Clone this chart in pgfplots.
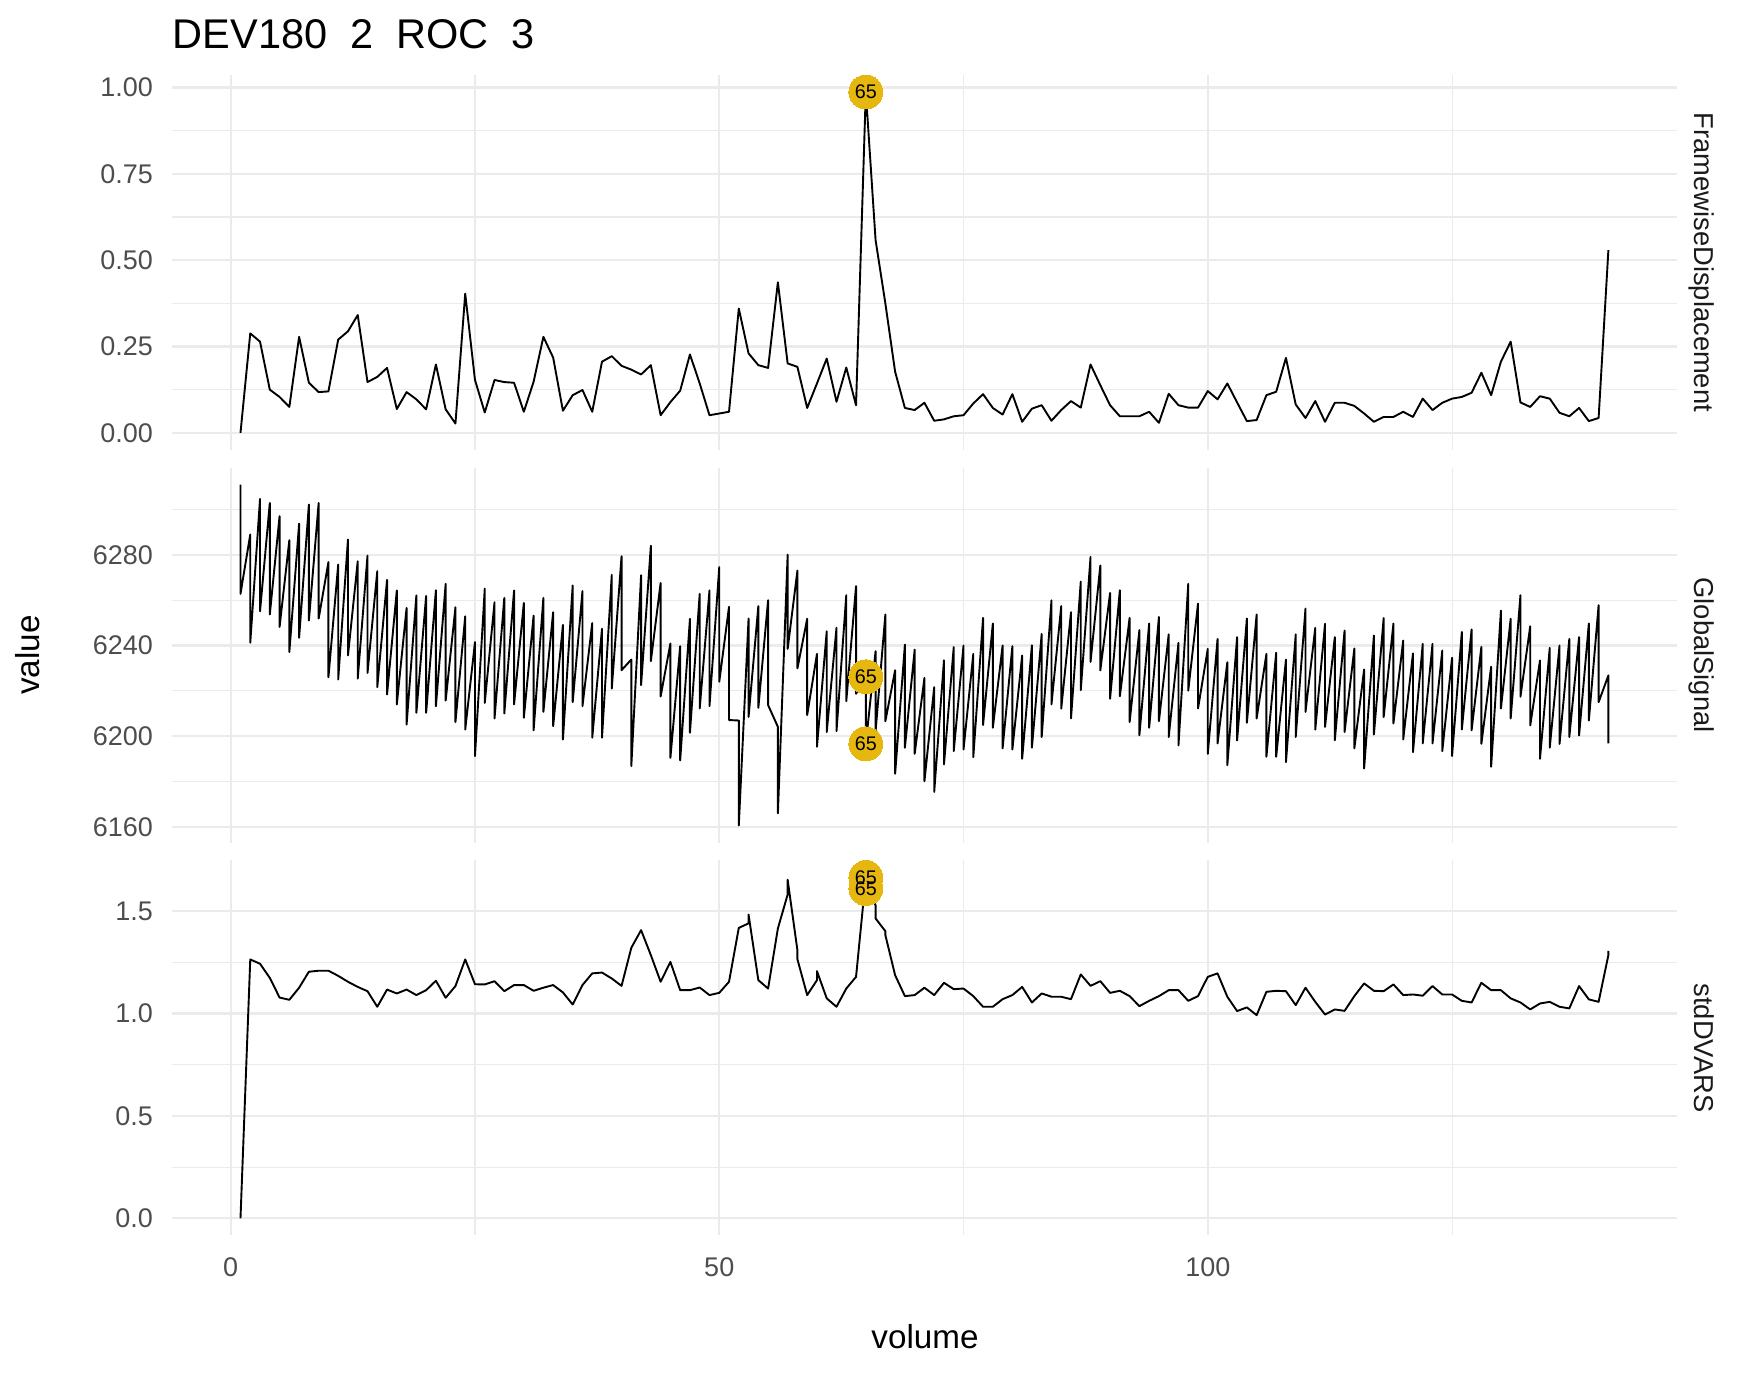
\documentclass[border=0pt]{standalone}
\usepackage{fontspec}
\setmainfont{Liberation Sans}
\usepackage{pgfplots}
\usepackage{pgfplotstable}
\pgfplotsset{compat=1.18}
\definecolor{gridgray}{HTML}{EBEBEB}
\definecolor{tickgray}{HTML}{4D4D4D}
\definecolor{stripgray}{HTML}{1A1A1A}
\definecolor{labgold}{RGB}{230,184,15}

\pgfplotstableread{
x y
1 0.000
2 0.288
3 0.264
4 0.125
5 0.104
6 0.075
7 0.278
8 0.145
9 0.118
10 0.120
11 0.270
12 0.294
13 0.341
14 0.147
15 0.162
16 0.188
17 0.069
18 0.118
19 0.097
20 0.068
21 0.198
22 0.068
23 0.027
24 0.403
25 0.153
26 0.059
27 0.153
28 0.147
29 0.145
30 0.061
31 0.148
32 0.278
33 0.218
34 0.064
35 0.109
36 0.124
37 0.061
38 0.206
39 0.222
40 0.194
41 0.183
42 0.169
43 0.196
44 0.051
45 0.089
46 0.122
47 0.227
48 0.143
49 0.051
50 0.056
51 0.061
52 0.360
53 0.230
54 0.196
55 0.188
56 0.436
57 0.201
58 0.191
59 0.072
60 0.143
61 0.215
62 0.090
63 0.189
64 0.080
65 0.987
66 0.558
67 0.375
68 0.177
69 0.072
70 0.066
71 0.087
72 0.035
73 0.039
74 0.048
75 0.051
76 0.085
77 0.112
78 0.072
79 0.053
80 0.112
81 0.032
82 0.070
83 0.080
84 0.035
85 0.066
86 0.092
87 0.073
88 0.198
89 0.138
90 0.080
91 0.048
92 0.048
93 0.048
94 0.061
95 0.029
96 0.113
97 0.080
98 0.073
99 0.073
100 0.121
101 0.097
102 0.143
103 0.088
104 0.034
105 0.037
106 0.109
107 0.119
108 0.217
109 0.082
110 0.043
111 0.092
112 0.032
113 0.087
114 0.087
115 0.078
116 0.056
117 0.032
118 0.046
119 0.046
120 0.061
121 0.046
122 0.099
123 0.066
124 0.087
125 0.099
126 0.104
127 0.116
128 0.174
129 0.109
130 0.206
131 0.264
132 0.088
133 0.075
134 0.106
135 0.099
136 0.058
137 0.048
138 0.072
139 0.034
140 0.043
141 0.529
}\fdtable

\pgfplotstableread{
x y
1 6311.0
1 6262.8
2 6289.0
2 6241.2
3 6304.7
3 6255.1
4 6302.9
4 6253.7
5 6297.1
5 6248.2
6 6286.5
6 6237.1
7 6293.8
7 6243.4
8 6302.2
8 6251.0
9 6302.9
9 6251.9
10 6276.8
10 6226.0
11 6275.7
11 6225.0
12 6286.8
12 6235.6
13 6277.2
13 6225.4
14 6279.7
14 6227.9
15 6272.8
15 6221.6
16 6269.0
16 6218.4
17 6264.3
17 6214.0
18 6256.6
18 6205.1
19 6262.1
19 6210.3
20 6261.9
20 6210.3
21 6264.4
21 6213.2
22 6267.2
22 6215.7
23 6256.9
23 6206.2
24 6252.9
24 6202.9
25 6241.5
25 6191.2
26 6265.1
26 6214.7
27 6259.1
27 6207.8
28 6261.0
28 6210.0
29 6264.3
29 6214.0
30 6258.8
30 6208.1
31 6253.2
31 6202.6
32 6261.0
32 6210.7
33 6254.7
33 6204.4
34 6249.1
34 6198.5
35 6266.5
35 6215.0
36 6264.0
36 6213.2
37 6249.9
37 6199.3
38 6247.4
38 6199.3
39 6271.2
39 6221.0
40 6279.4
40 6229.1
41 6233.8
41 6186.8
42 6271.0
42 6222.5
43 6284.0
43 6233.1
44 6267.6
44 6217.5
45 6240.9
45 6190.4
46 6239.7
46 6189.3
47 6251.8
47 6201.5
48 6262.8
48 6212.2
49 6264.3
49 6213.2
50 6274.6
50 6224.0
51 6257.1
51 6207.1
52 6206.9
52 6160.6
53 6251.9
53 6208.5
54 6257.4
54 6212.5
55 6260.0
55 6213.7
56 6204.1
56 6165.9
57 6280.1
57 6238.5
58 6273.1
58 6229.9
59 6251.8
59 6209.3
60 6236.3
60 6195.3
61 6246.3
61 6201.8
62 6247.8
62 6202.2
63 6262.2
63 6215.4
64 6266.2
64 6218.7
65 6226.2
65 6196.6
66 6237.5
66 6202.2
67 6253.7
67 6206.6
68 6229.1
68 6183.4
69 6240.4
69 6194.9
70 6238.2
70 6192.2
71 6225.7
71 6180.1
72 6221.6
72 6175.4
73 6233.5
73 6187.5
74 6239.3
74 6193.4
75 6240.0
75 6194.1
76 6236.3
76 6190.7
77 6252.2
77 6204.9
78 6249.7
78 6203.7
79 6240.0
79 6194.6
80 6239.7
80 6194.1
81 6235.6
81 6190.0
82 6240.1
82 6194.9
83 6245.1
83 6199.6
84 6259.9
84 6214.0
85 6257.4
85 6212.1
86 6254.7
86 6207.8
87 6268.2
87 6220.3
88 6279.1
88 6232.8
89 6275.3
89 6229.0
90 6263.2
90 6216.5
91 6264.4
91 6217.6
92 6252.2
92 6206.2
93 6246.8
93 6200.4
94 6249.7
94 6203.7
95 6252.6
95 6206.6
96 6244.9
96 6199.6
97 6241.2
97 6195.9
98 6267.2
98 6220.1
99 6258.5
99 6212.2
100 6238.5
100 6192.2
101 6242.9
101 6196.8
102 6232.6
102 6187.2
103 6243.7
103 6198.1
104 6251.9
104 6205.9
105 6253.7
105 6207.8
106 6236.3
106 6190.9
107 6236.8
107 6190.9
108 6233.8
108 6188.5
109 6244.9
109 6199.6
110 6256.3
110 6210.7
111 6247.8
111 6202.9
112 6249.6
112 6204.1
113 6243.7
113 6198.2
114 6246.6
114 6201.8
115 6238.7
115 6194.6
116 6229.4
116 6185.7
117 6244.4
117 6200.7
118 6252.1
118 6208.4
119 6249.7
119 6205.6
120 6242.2
120 6198.5
121 6236.5
121 6192.9
122 6240.7
122 6196.8
123 6240.7
123 6196.8
124 6237.8
124 6193.4
125 6234.6
125 6191.2
126 6246.0
126 6202.9
127 6247.1
127 6202.6
128 6239.4
128 6196.6
129 6230.6
129 6186.5
130 6255.4
130 6212.2
131 6251.8
131 6207.8
132 6262.2
132 6217.4
133 6248.5
133 6204.7
134 6233.4
134 6190.0
135 6239.0
135 6194.9
136 6240.0
136 6196.6
137 6242.9
137 6199.6
138 6243.7
138 6200.3
139 6249.7
139 6206.9
140 6257.8
140 6215.0
141 6226.8
141 6196.8
}\gstable

\pgfplotstableread{
x y
1 0.000
2 1.264
3 1.243
4 1.174
5 1.078
6 1.067
7 1.126
8 1.204
9 1.209
10 1.209
11 1.184
12 1.155
13 1.130
14 1.109
15 1.033
16 1.117
17 1.098
18 1.117
19 1.090
20 1.114
21 1.160
22 1.077
23 1.134
24 1.264
25 1.143
26 1.142
27 1.158
28 1.109
29 1.139
30 1.139
31 1.111
32 1.126
33 1.139
34 1.103
35 1.044
36 1.139
37 1.196
38 1.200
39 1.171
40 1.135
41 1.321
42 1.407
43 1.285
44 1.155
45 1.252
46 1.114
47 1.114
48 1.127
49 1.090
50 1.101
51 1.155
52 1.418
53 1.440
53 1.483
54 1.163
55 1.122
56 1.415
57 1.581
57 1.653
58 1.309
58 1.265
59 1.090
60 1.163
60 1.207
61 1.074
62 1.033
63 1.122
64 1.179
65 1.664
65 1.610
66 1.529
66 1.464
67 1.402
67 1.383
68 1.187
69 1.085
70 1.090
71 1.126
72 1.090
73 1.150
74 1.119
75 1.122
76 1.085
77 1.033
78 1.033
79 1.070
80 1.090
81 1.130
82 1.054
83 1.098
84 1.082
85 1.082
86 1.070
87 1.191
88 1.135
89 1.158
90 1.101
91 1.111
92 1.085
93 1.036
94 1.062
95 1.085
96 1.114
97 1.114
98 1.062
99 1.085
100 1.179
101 1.196
102 1.082
103 1.012
104 1.030
105 0.992
106 1.106
107 1.111
108 1.109
109 1.041
110 1.126
111 1.057
112 0.995
113 1.020
114 1.013
115 1.085
116 1.147
117 1.111
118 1.109
119 1.142
120 1.090
121 1.093
122 1.087
123 1.134
124 1.093
125 1.093
126 1.062
127 1.054
128 1.150
129 1.114
130 1.114
131 1.074
132 1.054
133 1.020
134 1.049
135 1.057
136 1.033
137 1.025
138 1.134
139 1.069
140 1.057
141 1.285
141 1.306
}\dvtable

\pgfplotsset{
  panel/.style={
    scale only axis, width=434.97pt, height=108.4pt,
    xmin=-6, xmax=148,
    anchor=north west,
    axis line style={draw=none},
    tick style={draw=none},
    major tick length=0pt, minor tick length=0pt,
    grid=both,
    major grid style={color=gridgray, line width=0.6pt},
    minor grid style={color=gridgray, line width=0.3pt},
    xtick={0,50,100}, minor xtick={25,75,125},
    tick label style={font=\fontsize{7.8}{9}\selectfont, text=tickgray},
    /pgf/number format/assume math mode=true,
    yticklabel style={xshift=-2.05pt},
    clip=false,
  },
  dataline/.style={black, line width=0.55pt, line join=round, no markers},
  flagdot/.style={labgold, only marks, mark=*, mark size=4.9pt,
    mark options={draw=labgold, fill=labgold, line width=0pt}},
  flagtext/.style={only marks, mark=none,
    nodes near coords={65},
    every node near coord/.append style={anchor=center, font=\fontsize{5.7}{6}\selectfont, text=black, inner sep=0pt}},
}
\tikzset{
  strip/.style={xshift=5.2pt, rotate=-90, anchor=base, inner sep=0pt, font=\fontsize{7.9}{9}\selectfont, text=stripgray},
}

\begin{document}
\begin{tikzpicture}
\useasboundingbox (0,0) rectangle (505.89pt,-397.48pt);

\node[anchor=base west, inner sep=0pt, font=\fontsize{12}{14}\selectfont] at (49.75pt,-14pt) {DEV180\ \ 2\ \ ROC\ \ 3};

\begin{axis}[panel, at={(49.75pt,-21.65pt)},
  ymin=-0.0494, ymax=1.0364,
  ytick={0,0.25,0.5,0.75,1}, minor ytick={0.125,0.375,0.625,0.875},
  xticklabels={},
  yticklabel style={/pgf/number format/.cd, fixed, fixed zerofill, precision=2}]
  \addplot[dataline] table[x=x, y=y] {\fdtable};
  \addplot[flagdot] coordinates {(65,0.987)};
  \addplot[flagtext] coordinates {(65,0.987)};
  \node[strip] at (rel axis cs:1,0.5) {FramewiseDisplacement};
\end{axis}

\begin{axis}[panel, at={(49.75pt,-135.18pt)},
  ymin=6153, ymax=6318.5,
  ytick={6160,6200,6240,6280}, minor ytick={6180,6220,6260,6300},
  xticklabels={},
  yticklabel style={/pgf/number format/.cd, fixed, 1000 sep={}}]
  \addplot[dataline] table[x=x, y=y] {\gstable};
  \addplot[flagdot] coordinates {(65,6226.2) (65,6196.6)};
  \addplot[flagtext] coordinates {(65,6226.2) (65,6196.6)};
  \node[strip] at (rel axis cs:1,0.5) {GlobalSignal};
\end{axis}

\begin{axis}[panel, at={(49.75pt,-248.74pt)},
  ymin=-0.0832, ymax=1.747,
  ytick={0,0.5,1,1.5}, minor ytick={0.25,0.75,1.25},
  xticklabel style={yshift=-2.9pt},
  yticklabel style={/pgf/number format/.cd, fixed, fixed zerofill, precision=1}]
  \addplot[dataline] table[x=x, y=y] {\dvtable};
  \addplot[flagdot] coordinates {(65,1.664) (65,1.610)};
  \addplot[flagtext] coordinates {(65,1.664) (65,1.610)};
  \node[strip] at (rel axis cs:1,0.5) {stdDVARS};
\end{axis}

\node[anchor=center, inner sep=0pt, font=\fontsize{9.6}{11}\selectfont] at (267.4pt,-386.5pt) {volume};
\node[anchor=center, rotate=90, inner sep=0pt, font=\fontsize{9.6}{11}\selectfont] at (8.1pt,-189.4pt) {value};
\end{tikzpicture}
\end{document}
